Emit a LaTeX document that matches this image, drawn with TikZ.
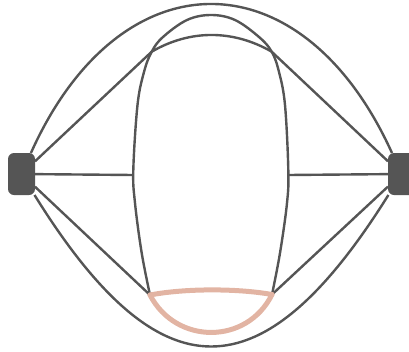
\documentclass[tikz,border=0pt]{standalone}
\definecolor{edgegray}{HTML}{555555}
\definecolor{salmon}{HTML}{E2B4A3}
\tikzset{
  term/.style={draw=none,fill=edgegray,rounded corners=6pt,minimum width=27pt,minimum height=42pt,inner sep=0pt,outer sep=0pt},
  wire/.style={draw=edgegray,line width=2.4pt},
  lens/.style={draw=salmon,line width=5pt,line cap=round},
}
\begin{document}
\begin{tikzpicture}[x=1pt,y=-1pt]
\clip (0,0) rectangle (409,351);
\node[term] (L) at (21.5,174) {};
\node[term] (R) at (401.5,174) {};
\coordinate (TL) at (151.7,51.7);
\coordinate (TR) at (271.7,51.7);
\coordinate (A) at (150,295);
\coordinate (B) at (272,294.5);
\coordinate (EL) at (133.3,175);
\coordinate (ER) at (288.3,175);
% outer arcs
\draw[wire] (L) .. controls (120,-45.7) and (302,-45.7) .. (R);
\draw[wire] (L) .. controls (160,397) and (262,397) .. (R);
% upper path
\draw[wire] (L) -- (TL);
\draw[wire] (TL) .. controls (190,29.4) and (233,29.4) .. (TR);
\draw[wire] (TR) -- (R);
% lower diagonals
\draw[wire] (L) -- (A);
\draw[wire] (B) -- (R);
% horizontals
\draw[wire] (L) -- (EL);
\draw[wire] (ER) -- (R);
% big inner arc
\draw[wire] plot[smooth,tension=0.6] coordinates {(150,295) (141.7,253) (135,203) (133.3,170) (137.5,105) (144,72) (151.7,51.7) (163,37) (187,20) (211,15) (235,20) (259,37) (271.7,51.7) (279,72) (285,105) (288.3,170) (287,203) (280,253) (272,294.5)};
% lens
\draw[lens] (A) .. controls (185,288.3) and (237,288.3) .. (B);
\draw[lens] (A) .. controls (176,345) and (247,345) .. (B);
\end{tikzpicture}
\end{document}
